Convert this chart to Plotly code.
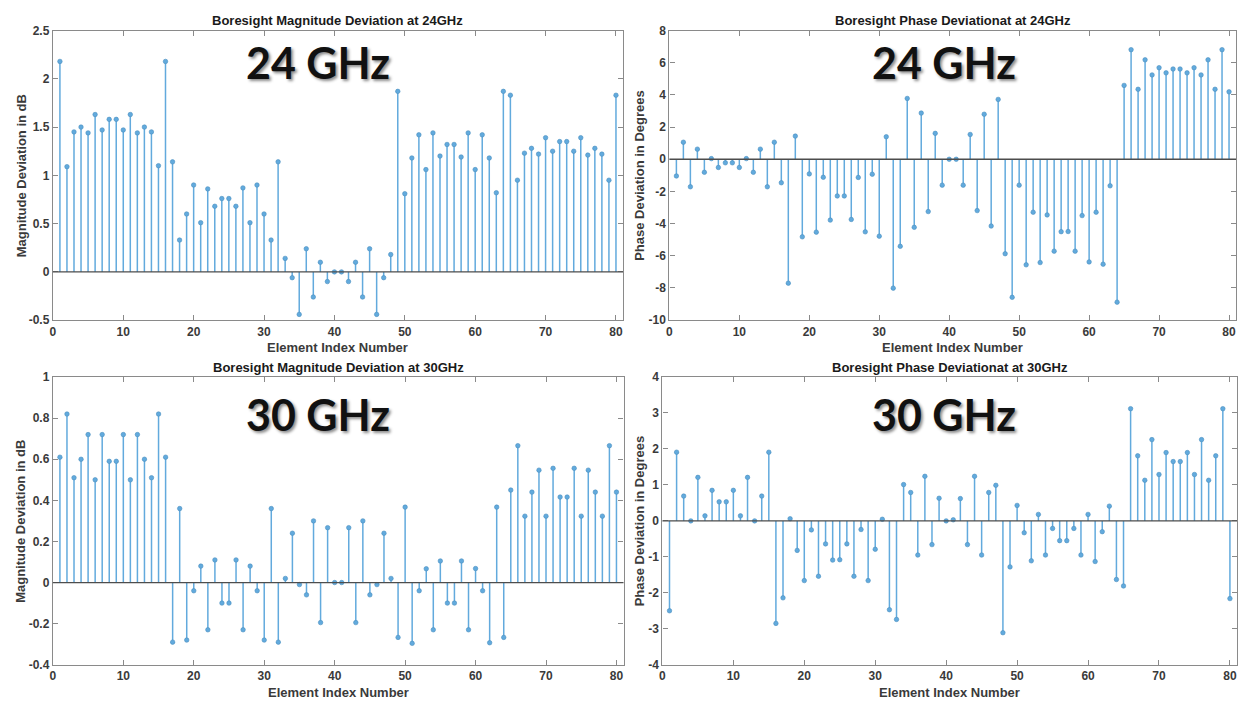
import plotly.graph_objects as go

element_index = list(range(1, 81))

mag_24 = [2.18, 1.09, 1.45, 1.50, 1.44, 1.63, 1.47, 1.58, 1.58, 1.47, 1.63, 1.44, 1.50, 1.45, 1.10, 2.18,
          1.14, 0.33, 0.60, 0.90, 0.51, 0.86, 0.68, 0.76, 0.76, 0.68, 0.87, 0.51, 0.90, 0.60, 0.33, 1.14,
          0.14, -0.06, -0.44, 0.24, -0.26, 0.10, -0.10, 0.0, 0.0, -0.10, 0.10, -0.26, 0.24, -0.44, -0.06, 0.18,
          1.87, 0.81, 1.18, 1.42, 1.06, 1.44, 1.20, 1.32, 1.32, 1.19, 1.44, 1.06, 1.42, 1.18, 0.82, 1.87,
          1.83, 0.95, 1.23, 1.28, 1.22, 1.39, 1.25, 1.35, 1.35, 1.25, 1.39, 1.21, 1.28, 1.22, 0.95, 1.83]

phase_24 = [-1.04, 1.06, -1.71, 0.63, -0.81, 0.04, -0.51, -0.22, -0.22, -0.51, 0.04, -0.81, 0.63, -1.71, 1.06, -1.46,
            -7.70, 1.44, -4.82, -0.91, -4.53, -1.12, -3.78, -2.28, -2.28, -3.74, -1.13, -4.51, -0.93, -4.78, 1.40, -8.01,
            -5.41, 3.78, -4.23, 2.87, -3.25, 1.61, -1.61, 0.0, 0.0, -1.61, 1.54, -3.19, 2.80, -4.15, 3.72, -5.87,
            -8.58, -1.61, -6.56, -3.29, -6.42, -3.46, -5.71, -4.50, -4.49, -5.71, -3.50, -6.38, -3.29, -6.52, -1.65, -8.88,
            4.59, 6.81, 4.35, 6.18, 5.24, 5.69, 5.37, 5.61, 5.61, 5.37, 5.69, 5.24, 6.18, 4.35, 6.81, 4.19]

mag_30 = [0.61, 0.82, 0.51, 0.60, 0.72, 0.50, 0.72, 0.59, 0.59, 0.72, 0.50, 0.72, 0.60, 0.51, 0.82, 0.61,
          -0.29, 0.36, -0.28, -0.04, 0.08, -0.23, 0.11, -0.10, -0.10, 0.11, -0.23, 0.08, -0.04, -0.28, 0.36, -0.29,
          0.02, 0.24, -0.01, -0.06, 0.30, -0.195, 0.267, 0.0, 0.0, 0.267, -0.195, 0.30, -0.06, -0.01, 0.24, 0.02,
          -0.267, 0.367, -0.296, -0.04, 0.067, -0.23, 0.105, -0.10, -0.10, 0.105, -0.23, 0.068, -0.04, -0.293, 0.367, -0.267,
          0.45, 0.666, 0.323, 0.44, 0.547, 0.323, 0.556, 0.416, 0.416, 0.556, 0.323, 0.547, 0.44, 0.323, 0.666, 0.44]

phase_30 = [-2.50, 1.91, 0.69, 0.0, 1.21, 0.14, 0.85, 0.53, 0.53, 0.85, 0.14, 1.21, 0.0, 0.69, 1.91, -2.85,
            -2.14, 0.06, -0.82, -1.66, -0.25, -1.54, -0.64, -1.09, -1.08, -0.64, -1.54, -0.24, -1.66, -0.79, 0.045, -2.47,
            -2.74, 1.01, 0.79, -0.95, 1.24, -0.66, 0.63, 0.0, 0.03, 0.62, -0.66, 1.24, -0.95, 0.79, 0.99, -3.11,
            -1.28, 0.43, -0.33, -1.11, 0.18, -0.95, -0.21, -0.55, -0.55, -0.21, -0.95, 0.18, -1.13, -0.30, 0.41, -1.63,
            -1.81, 3.12, 1.81, 1.13, 2.26, 1.29, 1.90, 1.65, 1.65, 1.90, 1.29, 2.26, 1.13, 1.81, 3.12, -2.16]

x_ticks = [0, 10, 20, 30, 40, 50, 60, 70, 80]
yt_mag24 = [-0.5, 0, 0.5, 1, 1.5, 2, 2.5]
yt_ph24 = [-10, -8, -6, -4, -2, 0, 2, 4, 6, 8]
yt_mag30 = [-0.4, -0.2, 0, 0.2, 0.4, 0.6, 0.8, 1]
yt_ph30 = [-4, -3, -2, -1, 0, 1, 2, 3, 4]

titles = ["Boresight Magnitude Deviation at 24GHz", "Boresight Phase Deviationat at 24GHz",
          "Boresight Magnitude Deviation at 30GHz", "Boresight Phase Deviationat at 30GHz"]
y_titles = ["Magnitude Deviation in dB", "Phase Deviation in Degrees",
            "Magnitude Deviation in dB", "Phase Deviation in Degrees"]
x_title = "Element Index Number"
big_labels = ["24 GHz", "24 GHz", "30 GHz", "30 GHz"]

W, H = 1246, 708
STEM = "#62AADD"

def fx(px):
    return px / W

def fy(py):
    return 1 - py / H

panels = [
    dict(data=mag_24, yt=yt_mag24, yr=[-0.5, 2.5], xd=[50, 621.5], yd=[24, 319.5]),
    dict(data=phase_24, yt=yt_ph24, yr=[-10, 8], xd=[668, 1236], yd=[24, 319.5]),
    dict(data=mag_30, yt=yt_mag30, yr=[-0.4, 1], xd=[50, 622], yd=[377.5, 671]),
    dict(data=phase_30, yt=yt_ph30, yr=[-4, 4], xd=[661, 1237], yd=[377.5, 671]),
]

def fmt(v):
    return "%g" % v

fig = go.Figure()
annotations = []
shapes = []
for i, p in enumerate(panels):
    n = "" if i == 0 else str(i + 1)
    xs, ys = [], []
    for xi, yi in zip(element_index, p["data"]):
        xs += [xi, xi, None]
        ys += [0, yi, None]
    fig.add_trace(go.Scatter(x=xs, y=ys, mode="lines", line=dict(color=STEM, width=1.5),
                             xaxis="x" + n, yaxis="y" + n, showlegend=False, hoverinfo="skip"))
    fig.add_trace(go.Scatter(x=element_index, y=p["data"], mode="markers",
                             marker=dict(color=STEM, size=4.5, line=dict(color="#4a8fc0", width=0.6)),
                             xaxis="x" + n, yaxis="y" + n, showlegend=False))
    axstyle = dict(showline=True, linecolor="#8a8a8a", linewidth=1.3, mirror="ticks",
                   ticks="inside", ticklen=5, tickcolor="#8a8a8a", tickwidth=1,
                   showgrid=False, zeroline=False,
                   tickfont=dict(family="Liberation Sans, Arial", size=12, color="#3a3a3a", weight="bold"))
    fig.update_layout(**{
        "xaxis" + n: dict(domain=[fx(p["xd"][0]), fx(p["xd"][1])], range=[0, 81],
                          tickvals=x_ticks, ticktext=[str(t) for t in x_ticks],
                          anchor="y" + n, **axstyle),
        "yaxis" + n: dict(domain=[fy(p["yd"][1]), fy(p["yd"][0])], range=p["yr"],
                          tickvals=p["yt"], ticktext=[fmt(t) for t in p["yt"]],
                          anchor="x" + n, **axstyle),
    })
    shapes.append(dict(type="line", xref="x" + n + " domain" if n else "x domain", x0=0, x1=1,
                       yref="y" + n, y0=0, y1=0, line=dict(color="#4d4d4d", width=1.3), layer="above"))
    cx = (p["xd"][0] + p["xd"][1]) / 2
    annotations.append(dict(text="<b>" + titles[i] + "</b>", x=fx(cx), y=fy(p["yd"][0] - 10),
                            xref="paper", yref="paper", showarrow=False, xanchor="center", yanchor="middle",
                            font=dict(family="Liberation Sans, Arial", size=13, color="#1a1a1a")))
    annotations.append(dict(text="<b>" + x_title + "</b>", x=fx(cx), y=fy(p["yd"][1] + 28),
                            xref="paper", yref="paper", showarrow=False, xanchor="center", yanchor="middle",
                            font=dict(family="Liberation Sans, Arial", size=13, color="#3a3a3a")))
    ylx = 18 if i % 2 == 0 else 638
    annotations.append(dict(text="<b>" + y_titles[i] + "</b>", x=fx(ylx), y=fy((p["yd"][0] + p["yd"][1]) / 2),
                            xref="paper", yref="paper", showarrow=False, textangle=-90,
                            xanchor="center", yanchor="middle",
                            font=dict(family="Liberation Sans, Arial", size=13, color="#3a3a3a")))
    bx = 316 if i % 2 == 0 else 943
    by = 57 if i < 2 else 416
    annotations.append(dict(text="<b>" + big_labels[i] + "</b>", x=fx(bx), y=fy(by),
                            xref="paper", yref="paper", showarrow=False, xanchor="center", yanchor="middle",
                            font=dict(family="Lato", size=43, color="#111111",
                                      shadow="2px 2px 3px rgba(0,0,0,0.45)")))

fig.update_layout(width=W, height=H, margin=dict(l=0, r=0, t=0, b=0),
                  paper_bgcolor="white", plot_bgcolor="white",
                  annotations=annotations, shapes=shapes)
fig.write_html("out.html")
